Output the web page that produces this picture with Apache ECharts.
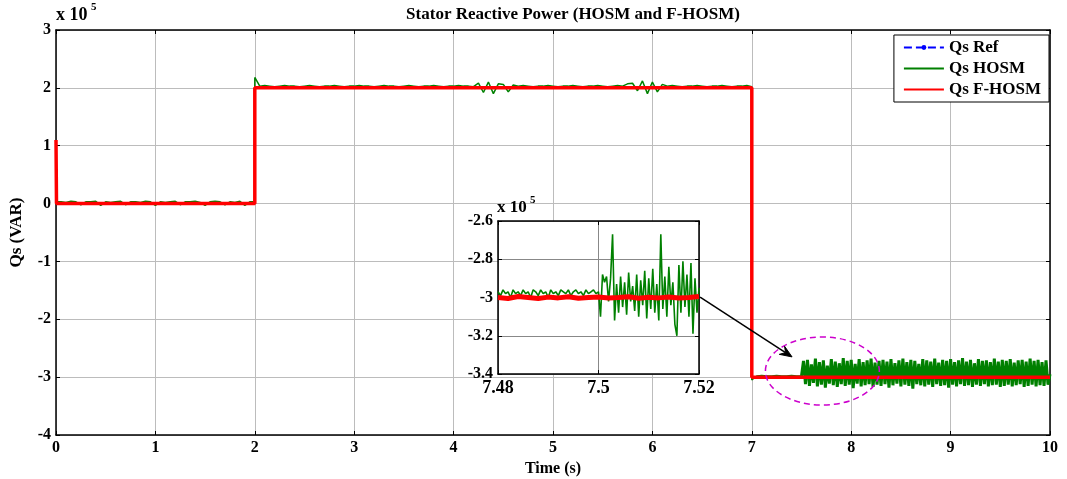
<!DOCTYPE html>
<html><head><meta charset="utf-8">
<script src="https://cdn.jsdelivr.net/npm/echarts@6/dist/echarts.min.js"></script>
<style>html,body{margin:0;padding:0;background:#fff}#c{width:1067px;height:479px}</style>
</head><body><div id="c"></div>
<script>
// ---- DATA (values in units of 1e5 VAR) ----
const refTimes = [0, 2, 2, 7, 7, 10];
const refValues = [0, 0, 2, 2, -3, -3];

const fhosmTimes = [0, 0.005, 2, 2, 7, 7, 10];
const fhosmValues = [1.1, 0, 0, 2, 2, -3, -3];

// HOSM segment A: t = 0 .. 2, step 0.05
const hosmA_start = 0, hosmA_step = 0.05;
const hosmA = [0.03,0.03,0.02,0.04,0.03,-0.02,0.03,0.03,0.04,-0.03,0.03,0.02,0.03,0.04,-0.02,0.03,0.03,0.02,0.04,0.03,-0.03,0.03,0.02,0.03,0.04,-0.02,0.03,0.03,0.04,0.02,-0.03,0.03,0.04,0.03,-0.02,0.03,0.02,0.04,-0.03,0.03,0.03];

// HOSM segment B: t = 2 .. 7, step 0.05
const hosmB_start = 2, hosmB_step = 0.05;
const hosmB = [2.18,2.03,2.04,2.03,2.02,2.03,2.04,2.03,2.03,2.02,
  2.03,2.04,2.03,2.02,2.03,2.03,2.04,2.03,2.02,2.03,
  2.03,2.04,2.03,2.03,2.02,2.03,2.04,2.03,2.03,2.02,
  2.03,2.04,2.03,2.02,2.03,2.03,2.04,2.03,2.02,2.03,
  2.03,2.04,2.03,2.03,2.02,2.08,1.92,2.10,1.90,2.07,
  2.06,1.93,2.05,2.03,2.04,2.03,2.02,2.03,2.03,2.04,
  2.03,2.02,2.03,2.03,2.04,2.03,2.02,2.03,2.03,2.04,
  2.03,2.02,2.03,2.04,2.03,2.07,2.08,1.95,2.12,1.90,
  2.10,1.93,2.06,2.03,2.04,2.03,2.02,2.03,2.03,2.04,
  2.03,2.02,2.03,2.03,2.04,2.03,2.02,2.03,2.03,2.04,2.02];

// HOSM segment C: t = 7 .. 7.5, step 0.05
const hosmC_start = 7, hosmC_step = 0.05;
const hosmC = [-3.05,-2.98,-2.97,-2.98,-2.98,-2.97,-2.98,-2.98,-2.97,-2.98,-2.98];

// HOSM segment D: t = 7.5 .. 10, step 0.02
const hosmD_start = 7.5, hosmD_step = 0.02;
const hosmD = [-2.98,
  -2.72,-3.12,-2.70,-3.15,-2.78,-3.10,-2.68,-3.16,-2.74,-3.13,-2.71,-3.18,-2.80,-3.11,-2.69,-3.14,-2.73,-3.17,-2.76,-3.12,
  -2.67,-3.15,-2.72,-3.13,-2.70,-3.19,-2.77,-3.11,-2.69,-3.16,-2.74,-3.14,-2.71,-3.12,-2.68,-3.17,-2.75,-3.13,-2.72,-3.15,
  -2.70,-3.12,-2.73,-3.18,-2.69,-3.14,-2.76,-3.11,-2.71,-3.16,-2.68,-3.13,-2.74,-3.15,-2.70,-3.20,-2.72,-3.12,-2.77,-3.14,
  -2.69,-3.16,-2.71,-3.13,-2.73,-3.17,-2.68,-3.12,-2.75,-3.15,-2.70,-3.14,-2.72,-3.18,-2.69,-3.13,-2.74,-3.16,-2.71,-3.12,
  -2.67,-3.15,-2.73,-3.14,-2.70,-3.17,-2.76,-3.13,-2.69,-3.15,-2.72,-3.12,-2.71,-3.16,-2.74,-3.14,-2.68,-3.13,-2.73,-3.17,
  -2.70,-3.15,-2.72,-3.13,-2.69,-3.16,-2.75,-3.14,-2.71,-3.12,-2.70,-3.17,-2.73,-3.15,-2.68,-3.13,-2.72,-3.16,-2.70,-3.14,
  -2.74,-3.15,-2.71,-3.13,
  -2.95];

// Inset (zoom 7.48 .. 7.52)
const insetA_start = 7.48, insetA_step = 0.0005;
const hosmInsetA = [-2.97,-2.99,-2.96,-2.98,-2.97,-3.00,-2.96,-2.98,-2.97,-2.99,-2.96,-2.98,-2.97,-3.00,-2.96,-2.97,-2.99,-2.96,-2.98,-2.97,-3.00,-2.96,-2.98,-2.97,-2.99,-2.96,-2.97,-2.98,-2.96,-2.99,-2.97,-2.96,-2.98,-2.97,-2.99,-2.96,-2.98,-2.97,-2.96,-2.98,-2.97];
const insetB_start = 7.5, insetB_step = 0.0004;
const hosmInsetB = [-2.98,-3.10,-2.88,-2.92,-2.89,-3.02,-2.90,-2.67,-3.12,-2.93,
  -3.08,-2.89,-3.05,-2.92,-3.09,-2.87,-3.02,-2.94,-3.07,-2.88,
  -3.10,-2.91,-3.04,-2.86,-3.11,-2.90,-3.06,-2.85,-3.08,-2.93,
  -3.12,-2.67,-3.06,-2.89,-3.10,-2.84,-3.04,-2.92,-3.14,-3.20,
  -2.83,-3.08,-2.81,-3.05,-2.88,-3.10,-2.82,-3.19,-2.90,-3.08,-2.95];
const insetRed_start = 7.48, insetRed_step = 0.002;
const fhosmInset = [-3.00,-3.005,-2.995,-3.00,-3.005,-2.998,-3.002,-2.996,-3.004,-3.00,-2.997,-3.003,-3.00,-2.996,-3.004,-2.999,-3.002,-2.997,-3.003,-3.00,-2.995];
const refInsetTimes = [7.48, 7.52];
const refInsetValues = [-3, -3];

// tick labels
const mainXTicks = [0,1,2,3,4,5,6,7,8,9,10];
const mainYTicks = [-4,-3,-2,-1,0,1,2,3];
const insetXTicks = [7.48, 7.5, 7.52];
const insetYTicks = [-3.4, -3.2, -3, -2.8, -2.6];

// annotations (data coords)
const arrowFrom = [6.48, -1.615];
const arrowTo = [7.405, -2.65];
const ellipseCenter = [7.71, -2.894];
const ellipseRadius = [0.573, 0.588];

// ---- build ----
function seg(start, step, vals) { return vals.map((v, i) => [+(start + i * step).toFixed(6), v]); }
function zip(t, v) { return t.map((x, i) => [x, v[i]]); }
const segC = seg(hosmC_start, hosmC_step, hosmC);
const hosmMain = [].concat(seg(hosmA_start, hosmA_step, hosmA), seg(hosmB_start, hosmB_step, hosmB), segC);
const hosmNoisy = [segC[segC.length - 1]].concat(seg(hosmD_start, hosmD_step, hosmD));
const hosmInset = [].concat(seg(insetA_start, insetA_step, hosmInsetA), seg(insetB_start, insetB_step, hosmInsetB));

const FF = 'Liberation Serif';
const chart = echarts.init(document.getElementById('c'), null, { renderer: 'canvas' });
const lbl = (sz, bold) => ({ fontFamily: FF, fontSize: sz, fontWeight: bold ? 'bold' : 'normal', color: '#000' });
const mainGrid = { left: 56, right: 17, top: 30, bottom: 44, containLabel: false, outerBoundsMode: 'none' };
const insetGrid = { left: 498, top: 221, width: 201, height: 153, show: true, backgroundColor: '#fff', borderWidth: 0, z: 3,
  containLabel: false, outerBoundsMode: 'none' };
const boxAxis = { axisLine: { onZero: false, lineStyle: { color: '#000', width: 1.5 } },
  axisTick: { inside: true, length: 4, lineStyle: { color: '#000' } }, axisLabel: { show: false }, splitLine: { show: false } };

const option = {
  animation: false,
  backgroundColor: '#fff',
  title: { text: 'Stator Reactive Power (HOSM and F-HOSM)', left: 568, textAlign: 'center', top: 1,
    textStyle: lbl(17, true) },
  legend: {
    data: [
      { name: 'Qs Ref' },
      { name: 'Qs HOSM', itemStyle: { opacity: 0 } },
      { name: 'Qs F-HOSM', itemStyle: { opacity: 0 } }
    ],
    orient: 'vertical', right: 18, top: 35, z: 20,
    backgroundColor: '#fff', borderColor: '#000', borderWidth: 1, borderRadius: 0,
    padding: [4, 8, 4, 9], itemGap: 4, itemWidth: 40, itemHeight: 6,
    textStyle: lbl(17, true)
  },
  grid: [mainGrid, insetGrid],
  xAxis: [
    { type: 'value', gridIndex: 0, min: 0, max: 10, interval: 1, name: 'Time (s)', nameLocation: 'middle', nameGap: 26,
      nameTextStyle: lbl(16, true),
      axisLine: { onZero: false, lineStyle: { color: '#000', width: 1.5 } },
      axisTick: { inside: true, length: 4, lineStyle: { color: '#000' } },
      axisLabel: Object.assign(lbl(16, true), { margin: 5, formatter: v => mainXTicks.includes(v) ? String(v) : '' }),
      splitLine: { show: true, lineStyle: { color: '#bcbcbc', width: 1 } } },
    Object.assign({ type: 'value', gridIndex: 0, min: 0, max: 10, interval: 1, position: 'top' }, boxAxis),
    { type: 'value', gridIndex: 1, min: 7.48, max: 7.52, interval: 0.02, z: 4,
      axisLine: { onZero: false, lineStyle: { color: '#000', width: 1.5 } },
      axisTick: { inside: true, length: 4, lineStyle: { color: '#000' } },
      axisLabel: Object.assign(lbl(18, true), { margin: 5, formatter: v => { const r = parseFloat(v.toFixed(2)); return insetXTicks.includes(r) ? String(r) : ''; } }),
      splitLine: { show: true, lineStyle: { color: '#888', width: 1 } } },
    Object.assign({ type: 'value', gridIndex: 1, min: 7.48, max: 7.52, interval: 0.02, position: 'top', z: 4 }, boxAxis)
  ],
  yAxis: [
    { type: 'value', gridIndex: 0, min: -4, max: 3, interval: 1, name: 'Qs (VAR)', nameLocation: 'middle', nameGap: 31,
      nameTextStyle: lbl(17, true),
      axisLine: { onZero: false, lineStyle: { color: '#000', width: 1.5 } },
      axisTick: { inside: true, length: 4, lineStyle: { color: '#000' } },
      axisLabel: Object.assign(lbl(16, true), { margin: 5, formatter: v => mainYTicks.includes(v) ? String(v) : '' }),
      splitLine: { show: true, lineStyle: { color: '#bcbcbc', width: 1 } } },
    Object.assign({ type: 'value', gridIndex: 0, min: -4, max: 3, interval: 1, position: 'right' }, boxAxis),
    { type: 'value', gridIndex: 1, min: -3.4, max: -2.6, interval: 0.2, z: 4,
      axisLine: { onZero: false, lineStyle: { color: '#000', width: 1.5 } },
      axisTick: { inside: true, length: 4, lineStyle: { color: '#000' } },
      axisLabel: Object.assign(lbl(16, true), { margin: 5, formatter: v => { const r = parseFloat(v.toFixed(1)); return insetYTicks.includes(r) ? String(r) : ''; } }),
      splitLine: { show: true, lineStyle: { color: '#888', width: 1 } } },
    Object.assign({ type: 'value', gridIndex: 1, min: -3.4, max: -2.6, interval: 0.2, position: 'right', z: 4 }, boxAxis)
  ],
  series: [
    { name: 'Qs Ref', type: 'line', xAxisIndex: 0, yAxisIndex: 0, data: zip(refTimes, refValues),
      showSymbol: false, symbol: 'circle', symbolSize: 5, color: '#0000ff',
      lineStyle: { color: '#0000ff', width: 1.5, type: 'dashed' }, z: 2 },
    { name: 'Qs HOSM', type: 'line', xAxisIndex: 0, yAxisIndex: 0, data: hosmMain, showSymbol: false, symbol: 'none',
      color: '#008000', lineStyle: { color: '#008000', width: 1.5 }, z: 3 },
    { name: 'Qs HOSM', type: 'line', xAxisIndex: 0, yAxisIndex: 0, data: hosmNoisy, showSymbol: false, symbol: 'none',
      color: '#008000', lineStyle: { color: '#008000', width: 3 }, z: 3 },
    { name: 'Qs F-HOSM', type: 'line', xAxisIndex: 0, yAxisIndex: 0, data: zip(fhosmTimes, fhosmValues), showSymbol: false, symbol: 'none',
      color: '#ff0000', lineStyle: { color: '#ff0000', width: 3.5 }, z: 4 },
    // inset
    { name: 'Qs Ref', type: 'line', xAxisIndex: 2, yAxisIndex: 2, data: zip(refInsetTimes, refInsetValues), showSymbol: false, symbol: 'none',
      color: '#0000ff', lineStyle: { color: '#0000ff', width: 1.5, type: 'dashed' }, z: 5 },
    { name: 'Qs HOSM', type: 'line', xAxisIndex: 2, yAxisIndex: 2, data: hosmInset, showSymbol: false, symbol: 'none',
      color: '#008000', lineStyle: { color: '#008000', width: 1.6 }, z: 6 },
    { name: 'Qs F-HOSM', type: 'line', xAxisIndex: 2, yAxisIndex: 2, data: seg(insetRed_start, insetRed_step, fhosmInset), showSymbol: false, symbol: 'none',
      color: '#ff0000', lineStyle: { color: '#ff0000', width: 5 }, z: 7 }
  ],
  graphic: [
    { type: 'text', left: 56, top: 6, z: 30, style: { text: 'x 10', font: 'bold 18px "Liberation Serif"', fill: '#000' } },
    { type: 'text', left: 91, top: 2, z: 30, style: { text: '5', font: 'bold 11px "Liberation Serif"', fill: '#000' } },
    { type: 'text', left: 497, top: 199, z: 30, style: { text: 'x 10', font: 'bold 17px "Liberation Serif"', fill: '#000' } },
    { type: 'text', left: 530, top: 195, z: 30, style: { text: '5', font: 'bold 11px "Liberation Serif"', fill: '#000' } }
  ]
};
chart.setOption(option);

// annotations positioned through the main grid's scales
const c = chart.convertToPixel({ gridIndex: 0 }, ellipseCenter);
const e = chart.convertToPixel({ gridIndex: 0 }, [ellipseCenter[0] + ellipseRadius[0], ellipseCenter[1] + ellipseRadius[1]]);
const a0 = chart.convertToPixel({ gridIndex: 0 }, arrowFrom);
const a1 = chart.convertToPixel({ gridIndex: 0 }, arrowTo);
const ang = Math.atan2(a1[1] - a0[1], a1[0] - a0[0]);
const hl = 13, hw = 0.38;
const h1 = [a1[0] - hl * Math.cos(ang - hw), a1[1] - hl * Math.sin(ang - hw)];
const h2 = [a1[0] - hl * Math.cos(ang + hw), a1[1] - hl * Math.sin(ang + hw)];
const hm = [a1[0] - hl * 0.6 * Math.cos(ang), a1[1] - hl * 0.6 * Math.sin(ang)];
chart.setOption({ graphic: option.graphic.concat([
  { type: 'ellipse', z: 40, shape: { cx: c[0], cy: c[1], rx: Math.abs(e[0] - c[0]), ry: Math.abs(c[1] - e[1]) },
    style: { fill: 'none', stroke: '#cc00cc', lineWidth: 1.5, lineDash: [6, 4] } },
  { type: 'line', z: 40, shape: { x1: a0[0], y1: a0[1], x2: hm[0], y2: hm[1] }, style: { stroke: '#000', lineWidth: 1.5 } },
  { type: 'polygon', z: 40, shape: { points: [a1, h1, hm, h2] }, style: { fill: '#000', stroke: '#000', lineWidth: 1 } }
]) });
</script>
</body></html>
